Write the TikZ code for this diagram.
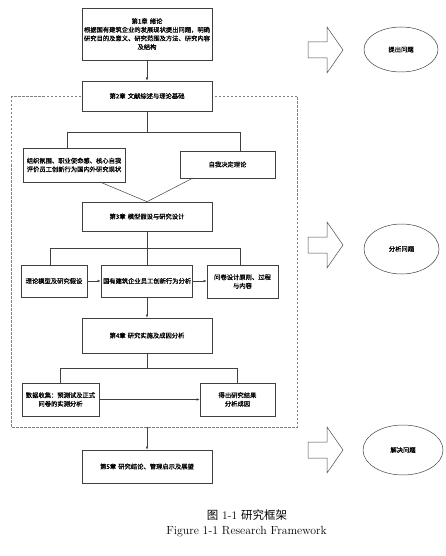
\documentclass[tikz,border=0pt]{standalone}
\usepackage{fontspec}
\newfontfamily\cjk[FakeBold=0.6]{Noto Sans CJK SC}
\newfontfamily\cjkcap{Noto Sans CJK SC}
\usetikzlibrary{arrows.meta,shadows,shapes.geometric}
\begin{document}
\begin{tikzpicture}[x=1pt,y=-1pt,
  box/.style={draw=black!75,line width=0.6pt,fill=white,align=center,inner sep=1pt,
    font=\cjk\fontsize{6.3}{8.6}\selectfont,
    drop shadow={shadow xshift=0.7pt,shadow yshift=-0.7pt,fill=black!45,opacity=1}},
  conn/.style={draw=black!75,line width=0.5pt},
  arr/.style={conn,-{Latex[length=3.2pt,width=2.6pt]}},
  bigarrow/.style={draw=black!70,line width=0.5pt,fill=white},
  oval/.style={draw=black!75,line width=0.5pt,shape=ellipse,inner sep=0pt,font=\cjk\fontsize{6.3}{8}\selectfont},
]
\useasboundingbox (0,0) rectangle (446,556);
% dashed frame
\draw[gray,line width=0.6pt,dash pattern=on 2.5pt off 1.5pt] (11,96) rectangle (297,427);
% boxes
\node[box,minimum width=130pt,text width=126pt,minimum height=52pt] (b1) at (147,34)
  {第1章 绪论\\根据国有建筑企业的发展现状提出问题，明确\\研究目的及意义、研究范围及方法、研究内容\\及结构};
\node[box,minimum width=130pt,text width=126pt,minimum height=30pt] (b2) at (147,96) {第2章 文献综述与理论基础};
\node[box,minimum width=102pt,text width=98pt,minimum height=34pt] (b3a) at (74,165)
  {组织氛围、职业使命感、核心自我\\评价员工创新行为国内外研究现状};
\node[box,minimum width=95pt,text width=91pt,minimum height=27pt] (b3b) at (227.5,164.5) {自我决定理论};
\node[box,minimum width=130pt,text width=126pt,minimum height=29pt] (b4) at (147,216.5) {第3章 模型假设与研究设计};
\node[box,minimum width=66pt,text width=62pt,minimum height=32pt] (b5a) at (54,281) {理论模型及研究假设};
\node[box,minimum width=91pt,text width=87pt,minimum height=32pt] (b5b) at (146.5,281) {国有建筑企业员工创新行为分析};
\node[box,minimum width=71pt,text width=67pt,minimum height=33pt] (b5c) at (242.5,281.5) {问卷设计原则、过程\\与内容};
\node[box,minimum width=130pt,text width=126pt,minimum height=35pt] (b6) at (147,335.5) {第4章 研究实施及成因分析};
\node[box,minimum width=77pt,text width=73pt,minimum height=33pt] (b7a) at (60.5,399.5) {数据收集：预测试及正式\\问卷的实测分析};
\node[box,minimum width=75pt,text width=71pt,minimum height=33pt] (b7b) at (237.5,399.5) {得出研究结果\\分析成因};
\node[box,minimum width=130pt,text width=126pt,minimum height=33pt] (b8) at (147,466.5) {第5章 研究结论、管理启示及展望};
% junction coordinates
\coordinate (j1) at (147,132);
\coordinate (j1l) at (67,132);
\coordinate (j1r) at (240,132);
\coordinate (j2) at (147,248);
\coordinate (j2l) at (50,248);
\coordinate (j2r) at (240,248);
\coordinate (j3) at (147,368);
\coordinate (j3l) at (60,368);
\coordinate (j3r) at (237,368);
\coordinate (fb) at (147,427);
\coordinate (s3a) at (100,182);
\coordinate (s3b) at (193,178);
% connectors
\draw[arr] (b1.south) -- (b2.north);
\draw[conn] (b2.south) -- (j1);
\draw[conn] (j1l) -- (j1r);
\draw[conn] (j1l) -- (j1l |- b3a.north);
\draw[conn] (j1r) -- (j1r |- b3b.north);
\draw[conn] (s3a) -- (b4.north);
\draw[conn] (s3b) -- (b4.north);
\draw[conn] (b4.south) -- (j2);
\draw[conn] (j2l) -- (j2r);
\draw[conn] (j2l) -- (j2l |- b5a.north);
\draw[conn] (j2r) -- (j2r |- b5c.north);
\draw[conn] (j2) -- (j2 |- b5b.north);
\draw[arr] (b5a.east) -- (b5b.west);
\draw[arr] (b5b.east) -- (b5c.west |- b5b.east);
\draw[arr] (b5b.south -| b6.north) -- (b6.north);
\draw[conn] (b6.south) -- (j3);
\draw[conn] (j3l) -- (j3r);
\draw[conn] (j3l) -- (j3l |- b7a.north);
\draw[conn] (j3r) -- (j3r |- b7b.north);
\draw[arr] (b7a.east) -- (b7b.west);
\draw[arr] (fb) -- (b8.north);
% block arrows
\foreach \cy in {50,245,450}{
  \draw[bigarrow] (308,\cy-8) -- (327,\cy-8) -- (327,\cy-23) -- (343,\cy) -- (327,\cy+23) -- (327,\cy+8) -- (308,\cy+8) -- cycle;
}
% ovals
\node[oval,minimum width=74pt,minimum height=45pt] (e1) at (401,49.5) {提出问题};
\node[oval,minimum width=75pt,minimum height=50pt] (e2) at (401.5,249) {分析问题};
\node[oval,minimum width=80pt,minimum height=50pt] (e3) at (403,450) {解决问题};
% caption
\node[font=\fontsize{11.5}{13}\selectfont] (cap1) at (247,515) {{\cjkcap 图} 1-1\hspace{4pt}{\cjkcap 研究框架}};
\node[font=\fontsize{11.8}{13}\selectfont] (cap2) at (246.5,532) {Figure 1-1 Research Framework};
\end{tikzpicture}
\end{document}
